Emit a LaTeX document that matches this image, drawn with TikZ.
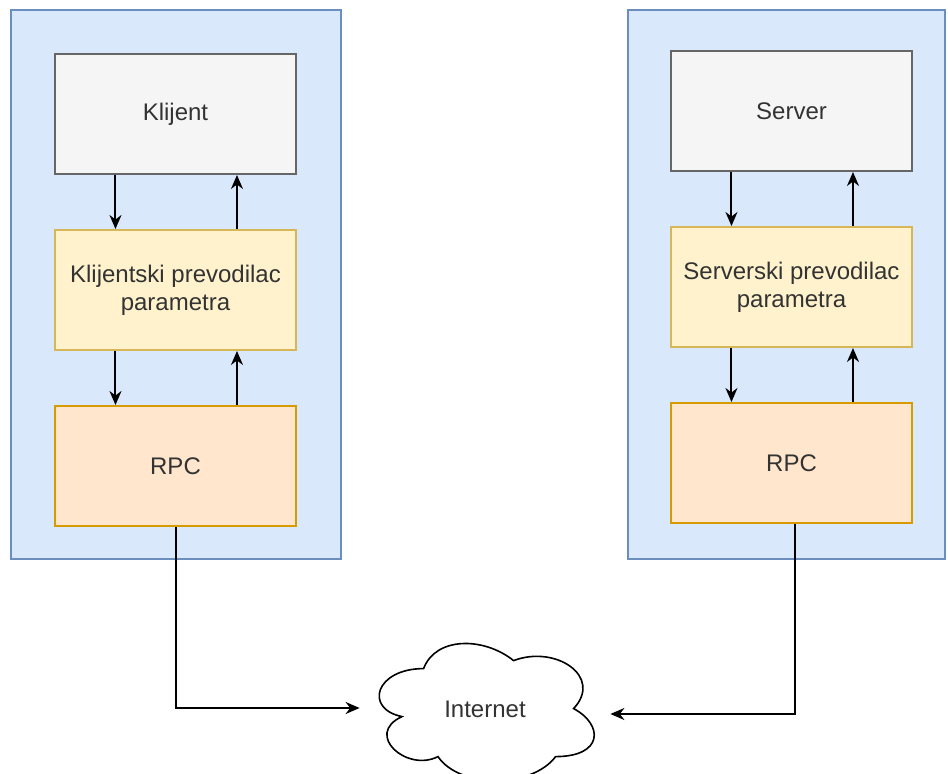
\documentclass[tikz,border=0pt]{standalone}
\usepackage{fontspec}
\setmainfont{Liberation Sans}
\usetikzlibrary{arrows.meta,calc}

\definecolor{contfill}{HTML}{DAE8FC}
\definecolor{contdraw}{HTML}{6C8EBF}
\definecolor{appfill}{HTML}{F5F5F5}
\definecolor{appdraw}{HTML}{666666}
\definecolor{stubfill}{HTML}{FFF2CC}
\definecolor{stubdraw}{HTML}{D6B656}
\definecolor{rpcfill}{HTML}{FFE6CC}
\definecolor{rpcdraw}{HTML}{D79B00}
\definecolor{txt}{HTML}{333333}

\begin{document}
\begin{tikzpicture}[x=0.5pt,y=-0.5pt,>={Stealth[length=7pt,width=6pt]}]
	
	% ------------------------------------------------------------
	% Styles
	% ------------------------------------------------------------
	\tikzset{
		container/.style={draw=contdraw,fill=contfill,line width=0.6pt,
			minimum height=274.5pt},
		block/.style={line width=1pt,minimum width=120.5pt,minimum height=60pt,
			align=center,text=txt,font=\fontsize{12}{14}\selectfont},
		app/.style={block,draw=appdraw,fill=appfill},
		stub/.style={block,draw=stubdraw,fill=stubfill},
		rpcbox/.style={block,draw=rpcdraw,fill=rpcfill},
		net/.style={minimum width=120pt,minimum height=80pt,inner sep=0pt,
			text=txt,font=\fontsize{12}{14}\selectfont},
		cloudline/.style={draw=black,line width=0.8pt,fill=white},
		link/.style={->,line width=1pt,draw=black}
	}
	
	\useasboundingbox (0,0) rectangle (948,774);
	
	% ============================================================
	% Containers
	% ============================================================
	\node[container,minimum width=165pt]   (leftside)  at (176,284.5) {};
	\node[container,minimum width=158.5pt] (rightside) at (786.5,284.5) {};
	
	% ============================================================
	% LEFT: client side
	% ============================================================
	\node[app]    (klijent)  at (175.5,114) {Klijent};
	\node[stub]   (kstub)    at (175.5,290) {Klijentski prevodilac\\parametra};
	\node[rpcbox] (krpc)     at (175.5,466) {RPC};
	
	% ============================================================
	% RIGHT: server side
	% ============================================================
	\node[app]    (server)   at (791.5,111) {Server};
	\node[stub]   (sstub)    at (791.5,287) {Serverski prevodilac\\parametra};
	\node[rpcbox] (srpc)     at (791.5,463) {RPC};
	
	% ============================================================
	% Internet cloud (outline drawn inside the node's box)
	% ============================================================
	\node[net] (internet) at (484,709) {};
	\begin{scope}[shift={(internet.north west)}]
		\draw[cloudline] (60,40) .. controls (12,40) and (0,80) .. (38.4,88)
			.. controls (0,105.6) and (43.2,144) .. (74.4,128)
			.. controls (96,160) and (168,160) .. (192,128)
			.. controls (240,128) and (240,96) .. (210,80)
			.. controls (240,48) and (192,16) .. (150,32)
			.. controls (120,8) and (72,8) .. (60,40) -- cycle;
	\end{scope}
	\node[net] at ($(internet.center)+(1,0)$) {Internet};
	
	% ============================================================
	% Arrows between layers
	% ============================================================
	\foreach \top/\bot in {klijent/kstub,kstub/krpc,server/sstub,sstub/srpc}{
		\draw[link] ($(\top.south west)!0.253!(\top.south east)$)
			-- ($(\bot.north west)!0.253!(\bot.north east)$);
		\draw[link] ($(\bot.north west)!0.753!(\bot.north east)$)
			-- ($(\top.south west)!0.753!(\top.south east)$);
	}
	
	% ============================================================
	% RPC to Internet
	% ============================================================
	\coordinate (kin) at ($(internet.west)+(-4,-1)$);
	\coordinate (sin) at ($(internet.east)+(6,5)$);
	\draw[link] (krpc.south) |- (kin);
	\draw[link] ($(srpc.south)+(3,0)$) |- (sin);
	
\end{tikzpicture}
\end{document}
